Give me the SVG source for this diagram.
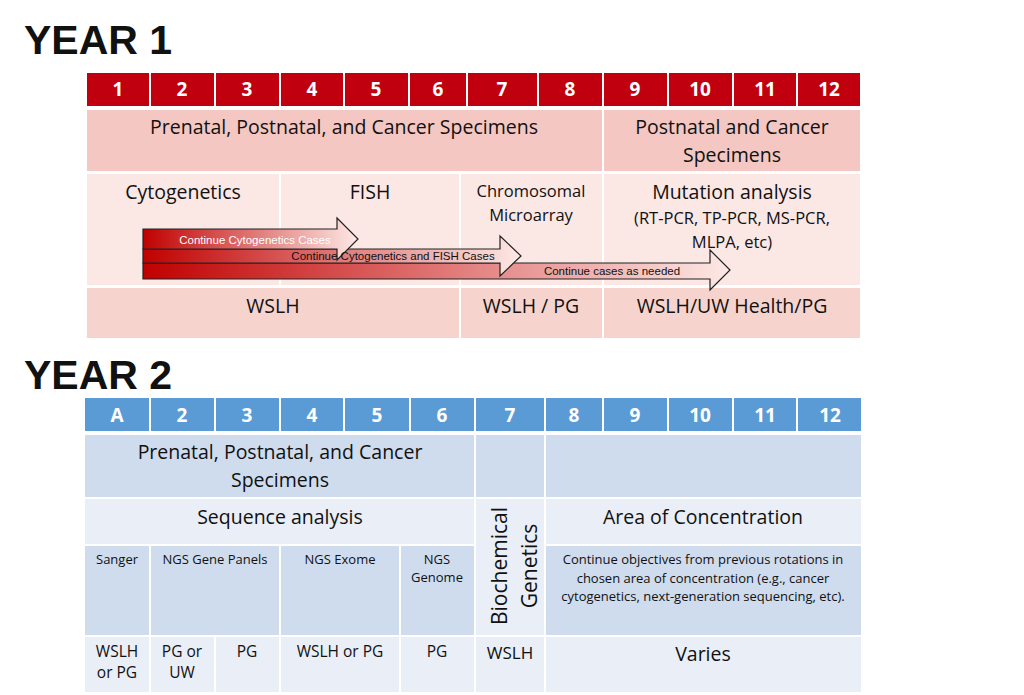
<svg xmlns="http://www.w3.org/2000/svg" width="1024" height="695" viewBox="0 0 1024 695">
<style>
text{font-family:"Open Sans","Liberation Sans",sans-serif;fill:#111}
.t{font-size:41px;font-weight:bold;font-family:"Liberation Sans",sans-serif}
.h{font-size:19px;font-weight:bold;fill:#fff;text-anchor:middle}
.m{font-size:19.5px;text-anchor:middle}
.s{font-size:13px;text-anchor:middle}
.c{stroke:#fff;stroke-width:2}
.a{stroke:#222;stroke-width:1.2}
.n{font-size:11.5px;font-family:"Liberation Sans Narrow","Liberation Sans",sans-serif;text-anchor:middle}
</style>
<defs>
<linearGradient id="g" x1="0" x2="1"><stop offset="0" stop-color="#c00000"/><stop offset="1" stop-color="#fde9e6"/></linearGradient>
</defs>
<rect width="1024" height="695" fill="#fff"/>
<text class="t" x="24" y="54">YEAR 1</text>
<text class="t" x="24" y="389">YEAR 2</text>
<g id="y1header">
<rect class="c" x="86" y="72" width="775" height="35" fill="#c0000e"/>
<g class="c"><path d="M150 72v35M215 72v35M280 72v35M344 72v35M409 72v35M467 72v35M538 72v35M603 72v35M668 72v35M733 72v35M797 72v35"/></g>
<text class="h" x="118" y="96">1</text><text class="h" x="182" y="96">2</text><text class="h" x="247" y="96">3</text><text class="h" x="312" y="96">4</text><text class="h" x="376" y="96">5</text><text class="h" x="438" y="96">6</text><text class="h" x="502" y="96">7</text><text class="h" x="570" y="96">8</text><text class="h" x="635" y="96">9</text><text class="h" x="700" y="96">10</text><text class="h" x="765" y="96">11</text><text class="h" x="829" y="96">12</text>
</g>
<g id="y1row1">
<rect class="c" x="86" y="109" width="517" height="63" fill="#f4c7c2"/>
<rect class="c" x="603" y="109" width="258" height="63" fill="#f4c7c2"/>
<text class="m" x="344" y="134">Prenatal, Postnatal, and Cancer Specimens</text>
<text class="m" x="732" y="134">Postnatal and Cancer</text><text class="m" x="732" y="162">Specimens</text>
</g>
<g id="y1row2">
<rect class="c" x="86" y="173" width="194" height="113" fill="#fbe7e4"/>
<rect class="c" x="280" y="173" width="180" height="113" fill="#fbe7e4"/>
<rect class="c" x="460" y="173" width="143" height="113" fill="#fbe7e4"/>
<rect class="c" x="603" y="173" width="258" height="113" fill="#fbe7e4"/>
<text class="m" x="183" y="199">Cytogenetics</text>
<text class="m" x="370" y="199">FISH</text>
<text class="m" x="531" y="197" style="font-size:16.5px">Chromosomal</text><text class="m" x="531" y="221" style="font-size:16.5px">Microarray</text>
<text class="m" x="732" y="199">Mutation analysis</text>
<text class="m" x="732" y="224" style="font-size:16.5px">(RT-PCR, TP-PCR, MS-PCR,</text>
<text class="m" x="732" y="248" style="font-size:16.5px">MLPA, etc)</text>
</g>
<g id="y1row3">
<rect class="c" x="86" y="287" width="374" height="52" fill="#f6d4cd"/>
<rect class="c" x="460" y="287" width="143" height="52" fill="#f6d4cd"/>
<rect class="c" x="603" y="287" width="258" height="52" fill="#f6d4cd"/>
<text class="m" x="273" y="313">WSLH</text>
<text class="m" x="531" y="313">WSLH / PG</text>
<text class="m" x="732" y="313">WSLH/UW Health/PG</text>
</g>
<g id="connectors">
<path class="a" fill="url(#g)" d="M143 263h567v-13l20 20l-20 20v-11h-567z"/>
<path class="a" fill="url(#g)" d="M143 249h357v-13l21 20l-21 20v-13h-357z"/>
<path class="a" fill="url(#g)" d="M143 229h194v-11l21 21l-21 21v-11h-194z"/>
<text class="n" x="255" y="244" style="fill:#fff">Continue Cytogenetics Cases</text>
<text class="n" x="393" y="260">Continue   Cytogenetics and FISH Cases</text>
<text class="n" x="612" y="275">Continue cases as needed</text>
</g>
<g id="y2header">
<rect class="c" x="84" y="397" width="778" height="35" fill="#5b9bd5"/>
<g class="c"><path d="M150 397v35M215 397v35M280 397v35M344 397v35M410 397v35M475 397v35M545 397v35M603 397v35M668 397v35M733 397v35M797 397v35"/></g>
<text class="h" x="117" y="422">A</text><text class="h" x="182" y="422">2</text><text class="h" x="247" y="422">3</text><text class="h" x="312" y="422">4</text><text class="h" x="377" y="422">5</text><text class="h" x="442" y="422">6</text><text class="h" x="510" y="422">7</text><text class="h" x="574" y="422">8</text><text class="h" x="635" y="422">9</text><text class="h" x="700" y="422">10</text><text class="h" x="765" y="422">11</text><text class="h" x="830" y="422">12</text>
</g>
<g id="y2row1">
<rect class="c" x="84" y="434" width="391" height="64" fill="#cfdcee"/>
<rect class="c" x="475" y="434" width="70" height="64" fill="#cfdcee"/>
<rect class="c" x="545" y="434" width="317" height="64" fill="#cfdcee"/>
<text class="m" x="280" y="459">Prenatal, Postnatal, and Cancer</text><text class="m" x="280" y="487">Specimens</text>
</g>
<g id="y2row2">
<rect class="c" x="84" y="498" width="391" height="47" fill="#e9eef7"/>
<rect class="c" x="475" y="498" width="70" height="138" fill="#e9eef7"/>
<rect class="c" x="545" y="498" width="317" height="47" fill="#e9eef7"/>
<text class="m" x="280" y="524">Sequence analysis</text>
<text class="m" x="703" y="524">Area of Concentration</text>
<text class="m" transform="translate(507 566) rotate(-90)" style="font-size:21px">Biochemical</text>
<text class="m" transform="translate(537 566) rotate(-90)" style="font-size:21px">Genetics</text>
</g>
<g id="y2row3">
<rect class="c" x="84" y="545" width="66" height="91" fill="#cfdcee"/>
<rect class="c" x="150" y="545" width="130" height="91" fill="#cfdcee"/>
<rect class="c" x="280" y="545" width="120" height="91" fill="#cfdcee"/>
<rect class="c" x="400" y="545" width="75" height="91" fill="#cfdcee"/>
<rect class="c" x="545" y="545" width="317" height="91" fill="#cfdcee"/>
<text class="s" x="117" y="564">Sanger</text>
<text class="s" x="215" y="564">NGS Gene Panels</text>
<text class="s" x="340" y="564">NGS Exome</text>
<text class="s" x="437" y="564">NGS</text><text class="s" x="437" y="582">Genome</text>
<text class="s" x="703" y="564">Continue objectives from previous rotations in</text>
<text class="s" x="703" y="583">chosen area of concentration (e.g., cancer</text>
<text class="s" x="703" y="601">cytogenetics, next-generation sequencing, etc).</text>
</g>
<g id="y2row4">
<rect class="c" x="84" y="636" width="66" height="57" fill="#e9eef7"/>
<rect class="c" x="150" y="636" width="65" height="57" fill="#e9eef7"/>
<rect class="c" x="215" y="636" width="65" height="57" fill="#e9eef7"/>
<rect class="c" x="280" y="636" width="120" height="57" fill="#e9eef7"/>
<rect class="c" x="400" y="636" width="75" height="57" fill="#e9eef7"/>
<rect class="c" x="475" y="636" width="70" height="57" fill="#e9eef7"/>
<rect class="c" x="545" y="636" width="317" height="57" fill="#e9eef7"/>
<text class="m" x="117" y="657" style="font-size:15.5px">WSLH</text><text class="m" x="117" y="678" style="font-size:15.5px">or PG</text>
<text class="m" x="182" y="657" style="font-size:15.5px">PG or</text><text class="m" x="182" y="678" style="font-size:15.5px">UW</text>
<text class="m" x="247" y="657" style="font-size:15.5px">PG</text>
<text class="m" x="340" y="657" style="font-size:15.5px">WSLH or PG</text>
<text class="m" x="437" y="657" style="font-size:15.5px">PG</text>
<text class="m" x="510" y="659" style="font-size:17px">WSLH</text>
<text class="m" x="703" y="661">Varies</text>
</g>
</svg>
